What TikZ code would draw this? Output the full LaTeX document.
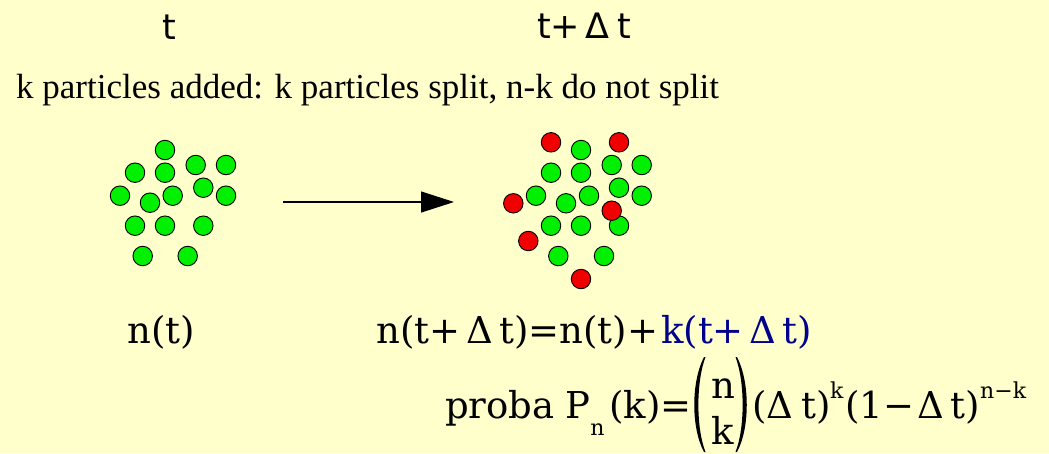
\documentclass[tikz,border=0pt]{standalone}
\usepackage{fontspec}
\setmainfont{Liberation Serif}
\newfontfamily\sansdv{DejaVu Sans}
\newfontfamily\serifdv{DejaVu Serif}
\usetikzlibrary{arrows.meta}
\definecolor{bg}{HTML}{FFFFCC}
\definecolor{dotgreen}{HTML}{00F000}
\definecolor{dotred}{HTML}{F00000}
\definecolor{navyk}{HTML}{00008C}
\newcommand{\subn}[1]{\raisebox{-17pt}{\fontsize{22}{22}\selectfont #1}}
\begin{document}
\begin{tikzpicture}[x=1pt,y=-1pt,
  dot/.style={circle,draw=black,line width=0.9pt,minimum size=19.5pt,inner sep=0pt},
  gdot/.style={dot,fill=dotgreen},
  rdot/.style={dot,fill=dotred},
  lbl/.style={inner sep=0pt,anchor=base west,font=\serifdv\fontsize{37}{40}\selectfont},
  blbl/.style={lbl,text=navyk},
  suplbl/.style={inner sep=0pt,anchor=base west,font=\serifdv\fontsize{22}{24}\selectfont},
  toplbl/.style={inner sep=0pt,anchor=base west,font=\sansdv\fontsize{35}{40}\selectfont},
  title/.style={inner sep=0pt,anchor=base west,font=\fontsize{35}{40}\selectfont},
  paren/.style={fill=black}]
\fill[bg] (0,0) rectangle (1049,453);
\useasboundingbox (0,0) rectangle (1049,453);

% headings
\node[toplbl] (tt) at (162,39) {t};
\node[toplbl] (tdt1) at (537,38) {t+};
\node[toplbl] (tdt2) at (585,38) {Δ};
\node[toplbl] (tdt3) at (617,38) {t};
\node[title] (desc) at (16,98) {k particles added: k particles split, n-k do not split};

% left cluster (time t)
\foreach \x/\y [count=\i] in {165/150,135/172.7,165/172.7,195.7/165,226/165,120/195.7,150/202.7,172.7/195.7,203.3/187.7,226/195.7,135/225.7,165/225.7,203.3/225.7,142.7/256,187.7/256}
  \node[gdot] (L\i) at (\x,\y) {};

% right cluster (time t+dt): green first, red on top
\foreach \x/\y [count=\i] in {581/150,551/172.7,581/172.7,611.7/165,641.7/165,536/195.7,566/203.3,589/195.7,619/187.7,641.7/195.7,551/225.7,581/225.7,619/225.7,558.3/256,604/256}
  \node[gdot] (G\i) at (\x,\y) {};
\foreach \x/\y [count=\i] in {551/142.3,619/142.3,513.3/203.3,611.7/210.7,528.3/241,581/279}
  \node[rdot] (R\i) at (\x,\y) {};

% arrow
\coordinate (a1) at (283,202);
\coordinate (a2) at (454,202);
\draw[line width=1.2pt,-{Triangle[length=33pt,width=21pt]}] (a1) -- (a2);

% n(t)
\node[lbl] (nt) at (127,343) {n(t)};

% n(t+dt) = n(t) + k(t+dt)
\node[lbl] (e1) at (376,343) {n(t+};
\node[lbl] (e2) at (466,343) {Δ};
\node[lbl] (e3) at (499,343) {t)=n(t)+};
\node[blbl] (e4) at (661,343) {k(t+};
\node[blbl] (e5) at (749,343) {Δ};
\node[blbl] (e6) at (782,343) {t)};

% proba line
\node[lbl] (proba) at (445,418) {proba};
\node[lbl,anchor=base east] (pnk) at (692,418) {P\subn{n}\hspace{5pt}(k)=};
\node[lbl,anchor=base] (bn) at (723,398) {n};
\node[lbl,anchor=base] (bk) at (723,444) {k};
\fill[paren] (704,357) .. controls (691,382) and (691,428) .. (704,452)
  -- (705.5,452) .. controls (696,428) and (696,382) .. (705.5,357) -- cycle;
\fill[paren] (737,357) .. controls (750,382) and (750,428) .. (737,452)
  -- (735.5,452) .. controls (745,428) and (745,382) .. (735.5,357) -- cycle;
\node[lbl] (p1) at (752,418) {(Δ};
\node[lbl] (p2) at (801,418) {t)};
\node[suplbl] (sk) at (830,398) {k};
\node[lbl] (p3) at (845,418) {(1−};
\node[lbl] (p4) at (917,418) {Δ};
\node[lbl] (p5) at (950,418) {t)};
\node[suplbl] (snk) at (980,398) {n−k};
\end{tikzpicture}
\end{document}
